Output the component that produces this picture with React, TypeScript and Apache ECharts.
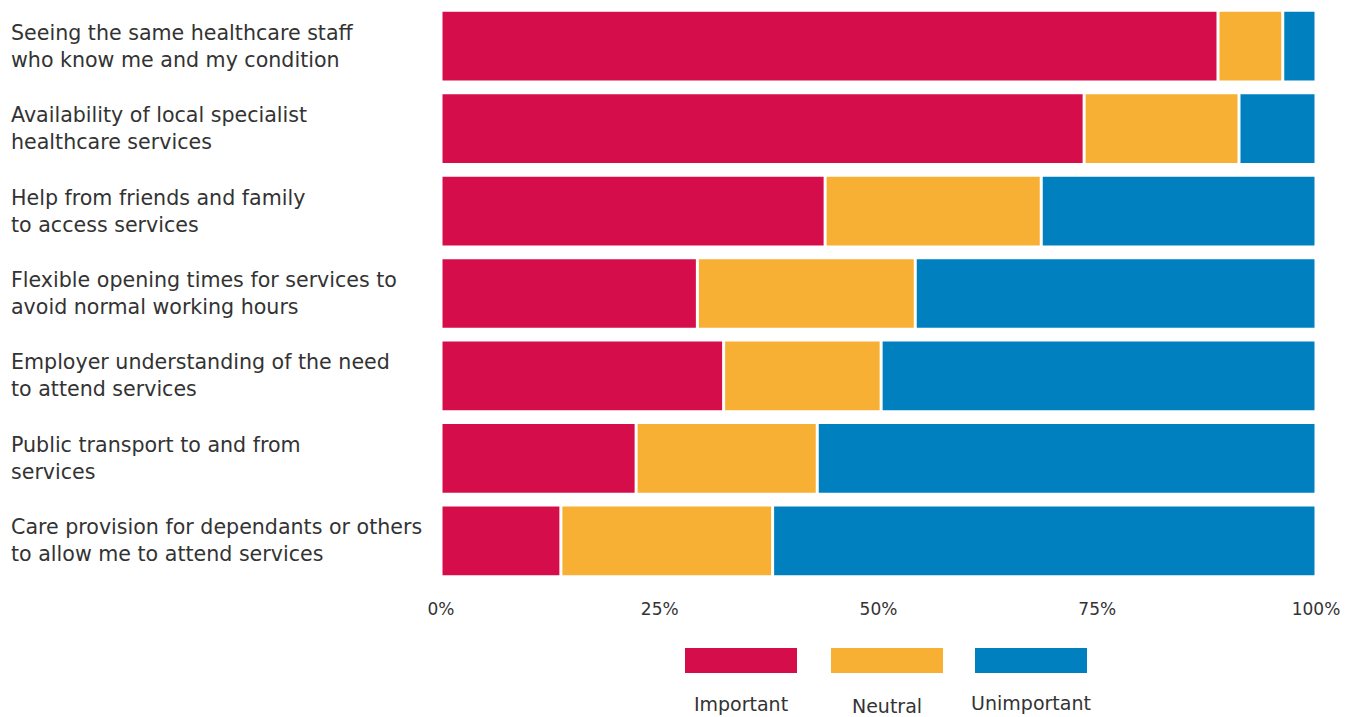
import React, { useEffect, useRef } from "react";
import * as echarts from "echarts";

const categories = [
  "Seeing the same healthcare staff\nwho know me and my condition",
  "Availability of local specialist\nhealthcare services",
  "Help from friends and family\nto access services",
  "Flexible opening times for services to\navoid normal working hours",
  "Employer understanding of the need\nto attend services",
  "Public transport to and from\nservices",
  "Care provision for dependants or others\nto allow me to attend services",
];
const seriesNames = ["Important", "Neutral", "Unimportant"];
const important = [88.8, 73.5, 43.9, 29.3, 32.3, 22.3, 13.7];
const neutral = [7.4, 17.7, 24.7, 24.9, 18.0, 20.7, 24.2];
const unimportant = [3.8, 8.8, 31.4, 45.8, 49.7, 57.0, 62.1];
const colors = ["#D60D4B", "#F7B034", "#0080BF"];
const tickValues = [0, 25, 50, 75, 100];

const FONT = "DejaVu Sans";

export default function App() {
  const ref = useRef<HTMLDivElement>(null);
  useEffect(() => {
    document.body.style.margin = "0";
    if (!ref.current) return;
    const chart = echarts.init(ref.current, undefined, { renderer: "svg" });
    const data = [important, neutral, unimportant];
    const legendX = [685, 831, 975];
    const labelY = [704, 706, 703];
    const graphic: any[] = [];
    seriesNames.forEach((n, i) => {
      graphic.push({
        type: "rect",
        left: legendX[i],
        top: 648,
        shape: { width: 112, height: 25 },
        style: { fill: colors[i] },
      });
      graphic.push({
        type: "text",
        x: legendX[i] + 56,
        y: labelY[i],
        style: {
          text: n,
          fill: "#333",
          font: `19px '${FONT}'`,
          align: "center",
          verticalAlign: "middle",
        },
      });
    });
    chart.setOption({
      animation: false,
      grid: { left: 441, right: 38, top: 5, bottom: 135, containLabel: false },
      xAxis: {
        type: "value",
        min: 0,
        max: 100,
        interval: 25,
        axisLine: { show: false },
        axisTick: { show: false },
        splitLine: { show: false },
        axisLabel: {
          formatter: (v: number) => (tickValues.includes(v) ? `${v}%` : ""),
          color: "#333",
          fontFamily: FONT,
          fontSize: 17,
          margin: 18,
        },
      },
      yAxis: {
        type: "category",
        inverse: true,
        data: categories,
        axisLine: { show: false },
        axisTick: { show: false },
        axisLabel: {
          align: "left",
          margin: 430,
          color: "#333",
          fontFamily: FONT,
          fontSize: 20.6,
          lineHeight: 27,
        },
      },
      series: seriesNames.map((n, i) => ({
        name: n,
        type: "bar",
        stack: "total",
        barCategoryGap: "13%",
        data: data[i],
        itemStyle: { color: colors[i], borderColor: "#fff", borderWidth: 1.5 },
      })),
      graphic,
    });
    return () => chart.dispose();
  }, []);
  return <div ref={ref} style={{ width: 1354, height: 717 }} />;
}
